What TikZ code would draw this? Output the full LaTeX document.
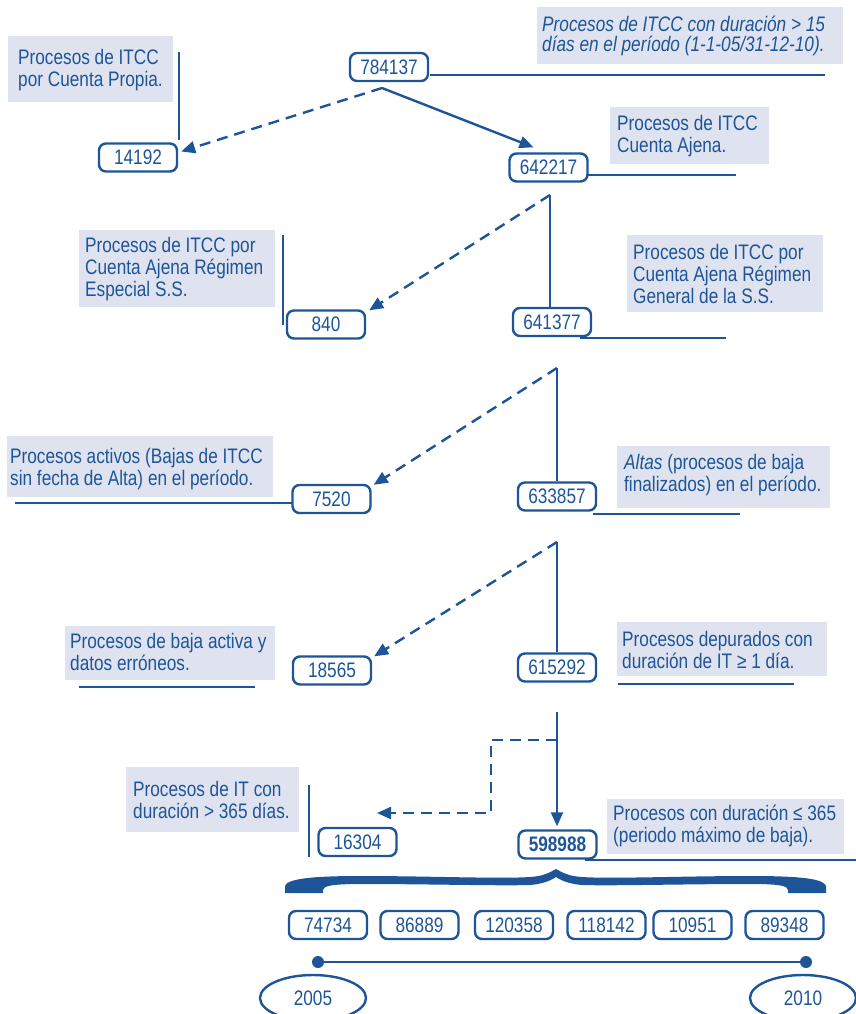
\documentclass[tikz,border=0pt]{standalone}
\usepackage{fontspec}
\setmainfont{Liberation Sans}[FakeStretch=0.82]
\usetikzlibrary{arrows.meta,shapes.geometric,calc}
\definecolor{ink}{RGB}{29,85,152}
\definecolor{pale}{RGB}{223,227,240}
\tikzset{
  txt/.style={font=\fontsize{21}{22}\selectfont, text=ink},
  num/.style={txt, draw=ink, line width=2.4pt, rounded corners=7pt,
    minimum width=78pt, minimum height=28pt, inner sep=0pt, fill=white},
  lbltxt/.style={txt, align=left, inner sep=0pt, anchor=west},
  panel/.style={fill=pale},
  wire/.style={draw=ink, line width=2.4pt},
  dwire/.style={wire, dash pattern=on 11pt off 7pt},
  tip/.style={-{Triangle[length=14pt,width=12pt]}},
  yearell/.style={txt, ellipse, draw=ink, line width=2.4pt, minimum width=106pt, minimum height=46pt, inner sep=0pt},
  dot/.style={circle, fill=ink, minimum size=12pt, inner sep=0pt}
}
\begin{document}
\begin{tikzpicture}[x=1pt,y=-1pt]
\useasboundingbox (0,0) rectangle (856,1014);

% label panels
\fill[panel] (8,36) rectangle (173,102);
\fill[panel] (537,7) rectangle (843,64);
\fill[panel] (610,107) rectangle (769,164);
\fill[panel] (79,230) rectangle (275,307);
\fill[panel] (627,235) rectangle (823,312);
\fill[panel] (7,436) rectangle (273,497);
\fill[panel] (617,446) rectangle (830,508);
\fill[panel] (65,626) rectangle (275,680);
\fill[panel] (617,622) rectangle (827,676);
\fill[panel] (126,767) rectangle (299,832);
\fill[panel] (607,799) rectangle (844,854);

% label texts
\node[lbltxt] (L1) at (18,70) {Procesos de ITCC\\por Cuenta Propia.};
\node[lbltxt, font=\fontsize{21}{20.5}\selectfont\itshape] (L2) at (542,36) {Procesos de ITCC con duración > 15\\días en el período (1-1-05/31-12-10).};
\node[lbltxt] (L3) at (617,136) {Procesos de ITCC\\Cuenta Ajena.};
\node[lbltxt] (L4) at (85,269) {Procesos de ITCC por\\Cuenta Ajena Régimen\\Especial S.S.};
\node[lbltxt] (L5) at (633,274) {Procesos de ITCC por\\Cuenta Ajena Régimen\\General de la S.S.};
\node[lbltxt] (L6) at (10,469) {Procesos activos (Bajas de ITCC\\sin fecha de Alta) en el período.};
\node[lbltxt] (L7) at (624,475) {\textit{Altas} (procesos de baja\\finalizados) en el período.};
\node[lbltxt] (L8) at (70,652) {Procesos de baja activa y\\datos erróneos.};
\node[lbltxt] (L9) at (622,650) {Procesos depurados con\\duración de IT ≥ 1 día.};
\node[lbltxt] (L10) at (133,800) {Procesos de IT con\\duración > 365 días.};
\node[lbltxt] (L11) at (613,826) {Procesos con duración ≤ 365\\(periodo máximo de baja).};

% side rules
\draw[wire] (179,52) -- (179,140);
\draw[wire] (430,75) -- (825,75);
\draw[wire] (588,175) -- (736,175);
\draw[wire] (283,235) -- (283,325);
\draw[wire] (580,338) -- (726,338);
\draw[wire] (15,503) -- (292,503);
\draw[wire] (593,514) -- (740,514);
\draw[wire] (79,687) -- (255,687);
\draw[wire] (618,684) -- (794,684);
\draw[wire] (309,785) -- (309,857);
\draw[wire] (585,860) -- (856,860);

% number boxes
\node[num] (n784137) at (389,67) {784137};
\node[num] (n14192) at (138,157.5) {14192};
\node[num] (n642217) at (548.5,167.5) {642217};
\node[num] (n840) at (326,324.5) {840};
\node[num] (n641377) at (552,322) {641377};
\node[num] (n7520) at (331.5,499) {7520};
\node[num] (n633857) at (557,496.5) {633857};
\node[num] (n18565) at (332,670.5) {18565};
\node[num] (n615292) at (557,667.5) {615292};
\node[num] (n16304) at (357.5,842) {16304};
\node[num, font=\fontsize{21}{22}\selectfont\bfseries] (n598988) at (557.5,844.5) {598988};

\node[num] (y1) at (328,925) {74734};
\node[num] (y2) at (419.5,925) {86889};
\node[num] (y3) at (514,925) {120358};
\node[num] (y4) at (606.5,925) {118142};
\node[num] (y5) at (692.5,925) {10951};
\node[num] (y6) at (784.5,925) {89348};

% branch points
\coordinate (c1) at (382,88);
\coordinate (c2) at (550,195);
\coordinate (c3) at (557,368);
\coordinate (c4) at (557,542);
\coordinate (c5) at (557,712);
\coordinate (c5a) at (557,740);
\coordinate (k1) at (491,740);
\coordinate (k2) at (491,813);
\coordinate (t6) at (377,813);

% connectors
\draw[dwire, tip] (c1) -- ([xshift=3pt,yshift=6pt]n14192.east);
\draw[wire, tip] (c1) -- ([xshift=-15pt,yshift=5pt]n642217.north);
\draw[dwire, tip] (c2) -- ([xshift=3pt,yshift=-1pt]n840.north east);
\draw[wire] (c2) -- (c2 |- n641377.north);
\draw[dwire, tip] (c3) -- ([xshift=2pt,yshift=-1pt]n7520.north east);
\draw[wire] (c3) -- (c3 |- n633857.north);
\draw[dwire, tip] (c4) -- ([xshift=2pt,yshift=-1pt]n18565.north east);
\draw[wire] (c4) -- (c4 |- n615292.north);
\draw[wire, tip] (c5) -- ([yshift=3pt]c5 |- n598988.north);
\draw[dwire, tip] (c5a) -- (k1) -- (k2) -- (t6);

% brace
\fill[ink] (285,893) -- (285,886)
  .. controls (287,879) and (310,876) .. (360,876)
  .. controls (430,876) and (500,879) .. (530,877)
  .. controls (545,876) and (550,872) .. (556,869)
  .. controls (562,872) and (567,876) .. (582,877)
  .. controls (612,879) and (682,876) .. (752,876)
  .. controls (802,876) and (824,879) .. (826,886)
  -- (826,893) -- (788,893) -- (788,890)
  .. controls (788,886) and (780,884) .. (752,884)
  .. controls (682,884) and (612,886) .. (582,885)
  .. controls (570,884) and (562,881) .. (556,877)
  .. controls (550,881) and (542,884) .. (530,885)
  .. controls (500,886) and (430,884) .. (360,884)
  .. controls (332,884) and (323,886) .. (323,890)
  -- (323,893) -- cycle;

% timeline
\node[dot] (d1) at (318,962) {};
\node[dot] (d2) at (806,962) {};
\draw[wire] (d1) -- (d2);
\node[yearell] (e2005) at (313,998) {2005};
\node[yearell] (e2010) at (803,998) {2010};
\end{tikzpicture}
\end{document}
